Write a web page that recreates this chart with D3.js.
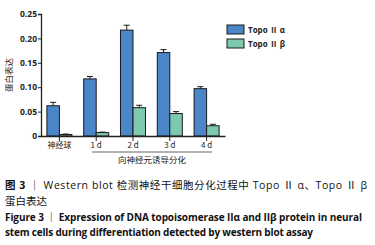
<!DOCTYPE html>
<html>
<head>
<meta charset="utf-8">
<script src="https://cdn.jsdelivr.net/npm/d3@7"></script>
<style>
  body { margin: 0; background: #fff; }
  svg { display: block; }
  text { font-family: "Open Sans", "Noto Sans CJK SC", sans-serif; }
</style>
</head>
<body>
<div id="chart"></div>
<script>
// data
const groups = ["神经球", "1 d", "2 d", "3 d", "4 d"]
const series = ["Topo Ⅱ α", "Topo Ⅱ β"]
const alphaValues = [0.062, 0.117, 0.217, 0.171, 0.097]
const alphaErrors = [0.007, 0.005, 0.010, 0.006, 0.004]
const betaValues = [0.003, 0.007, 0.058, 0.046, 0.021]
const betaErrors = [0.001, 0.001, 0.005, 0.004, 0.003]
const yTicks = [0, 0.05, 0.10, 0.15, 0.20, 0.25]

const colors = ["#4a86c8", "#7fc8b0"]
const cjk = "\"Noto Sans CJK SC\", sans-serif"

const width = 375, height = 245

const svg = d3.select("#chart").append("svg")
    .attr("width", width)
    .attr("height", height)

// scales
const xScale = d3.scaleBand()
    .domain(groups)
    .range([41, 225])
    .padding(0)

const subScale = d3.scaleBand()
    .domain(series)
    .range([xScale.bandwidth() * 0.16, xScale.bandwidth() * 0.84])

const yScale = d3.scaleLinear()
    .domain([0, 0.25])
    .range([136, 14])

// bars
const rows = []
groups.forEach((g, i) => {
    rows.push({ group: g, s: series[0], v: alphaValues[i], e: alphaErrors[i], c: colors[0] })
    rows.push({ group: g, s: series[1], v: betaValues[i], e: betaErrors[i], c: colors[1] })
})

const bars = svg.append("g")
bars.selectAll("rect")
    .data(rows)
    .join("rect")
        .attr("x", d => xScale(d.group) + subScale(d.s))
        .attr("y", d => yScale(d.v))
        .attr("width", subScale.bandwidth())
        .attr("height", d => yScale(0) - yScale(d.v))
        .attr("fill", d => d.c)
        .attr("stroke", "#1a1a1a")
        .attr("stroke-width", 1)

// error bars
const errs = svg.append("g")
    .attr("stroke", "#1a1a1a")
    .attr("stroke-width", 1)
rows.forEach(d => {
    const cx = xScale(d.group) + subScale(d.s) + subScale.bandwidth() / 2
    errs.append("line")
        .attr("x1", cx).attr("x2", cx)
        .attr("y1", yScale(d.v)).attr("y2", yScale(d.v + d.e))
    errs.append("line")
        .attr("x1", cx - 3).attr("x2", cx + 3)
        .attr("y1", yScale(d.v + d.e)).attr("y2", yScale(d.v + d.e))
})

// y axis
const yAxis = svg.append("g")
    .attr("transform", "translate(41,0)")
    .call(d3.axisLeft(yScale)
        .tickValues(yTicks)
        .tickSize(3)
        .tickFormat(d => d === 0 ? "0" : d3.format(".2f")(d)))
yAxis.select(".domain").attr("stroke", "#222").attr("stroke-width", 1.3)
yAxis.selectAll(".tick line").attr("stroke", "#222")
yAxis.selectAll(".tick text")
    .attr("x", -4)
    .attr("fill", "#222")
    .style("font-size", "8.5px")
    .style("font-weight", "bold")

// x axis
const xAxis = svg.append("g")
    .attr("transform", "translate(0,136)")
    .call(d3.axisBottom(xScale).tickSize(5).tickSizeOuter(0))
xAxis.select(".domain").attr("stroke", "#222").attr("stroke-width", 1.3)
xAxis.selectAll(".tick line").attr("stroke", "#222")
xAxis.selectAll(".tick text")
    .attr("y", 6)
    .attr("fill", "#222")
    .style("font-size", "8px")
    .style("font-family", cjk)

// bracket for induced differentiation
svg.append("line")
    .attr("x1", 92).attr("x2", 212)
    .attr("y1", 152).attr("y2", 152)
    .attr("stroke", "#999")
    .attr("stroke-width", 1.6)
svg.append("text")
    .attr("x", 152).attr("y", 163)
    .attr("text-anchor", "middle")
    .style("font-size", "8.5px")
    .style("font-family", cjk)
    .attr("fill", "#222")
    .text("向神经元诱导分化")

// y label
svg.append("text")
    .attr("transform", "translate(12,75) rotate(-90)")
    .attr("text-anchor", "middle")
    .style("font-size", "8.5px")
    .style("font-family", cjk)
    .attr("fill", "#222")
    .text("蛋白表达")

// legend
const legend = svg.append("g")
    .attr("transform", "translate(227,25)")
series.forEach((s, i) => {
    const row = legend.append("g").attr("transform", `translate(0,${i * 14})`)
    row.append("rect")
        .attr("width", 17).attr("height", 9)
        .attr("fill", colors[i])
        .attr("stroke", "#1a1a1a")
        .attr("stroke-width", 1)
    row.append("text")
        .attr("x", 21).attr("y", 7.5)
        .style("font-size", "8px")
        .style("font-weight", "bold")
        .attr("fill", "#222")
        .text(s)
})

// caption
const cap = svg.append("g").attr("fill", "#111")
const line1 = cap.append("text")
    .attr("x", 5).attr("y", 189)
    .attr("textLength", 362)
    .style("font-size", "10.5px")
    .style("font-family", "\"Open Sans\", \"Noto Sans CJK SC\", sans-serif")
line1.append("tspan").style("font-weight", "bold").text("图 3")
line1.append("tspan").text("  ｜ Western blot 检测神经干细胞分化过程中 Topo Ⅱ α、Topo Ⅱ β")
cap.append("text")
    .attr("x", 5).attr("y", 205)
    .style("font-size", "10.5px")
    .style("font-family", cjk)
    .text("蛋白表达")
cap.append("text")
    .attr("x", 5).attr("y", 221)
    .style("font-size", "10px")
    .style("font-weight", "bold")
    .attr("textLength", 357)
    .text("Figure 3  ｜  Expression of DNA topoisomerase IIα and IIβ protein in neural")
cap.append("text")
    .attr("x", 5).attr("y", 236)
    .style("font-size", "10px")
    .style("font-weight", "bold")
    .attr("textLength", 308)
    .text("stem cells during differentiation detected by western blot assay")
</script>
</body>
</html>
